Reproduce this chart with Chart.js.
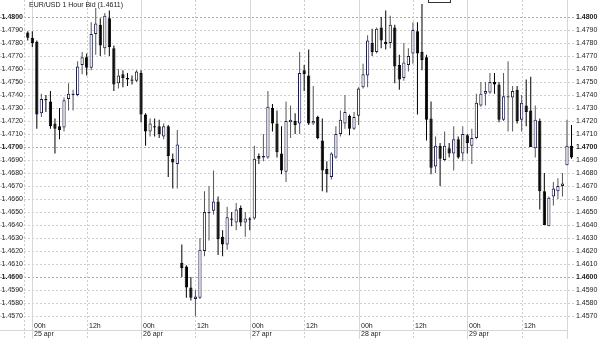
<!DOCTYPE html>
<html>
<head>
<meta charset="utf-8">
<script src="https://cdn.jsdelivr.net/npm/chart.js@4/dist/chart.umd.min.js"></script>
<style>
  html, body { margin: 0; padding: 0; background: #fff; }
  #wrap { width: 600px; height: 339px; position: relative; }
</style>
</head>
<body>
<div id="wrap"><canvas id="fx"></canvas></div>
<script>
// hourly candles, first one is 23h on 24 apr (hour -1)
const firstHour = -1;
const opens = [
  1.4788, 1.4784, 1.4781, 1.4726, 1.4737, 1.4735, 1.4718, 1.4716, 1.4715, 1.4737, 1.4740, 1.4740, 1.4763, 1.4769, 1.4761, 1.4787, 1.4794, 1.4776, 1.4799, 1.4776,
  1.4749, 1.4756, 1.4753, 1.4752, 1.4751, 1.4757, 1.4725, 1.4712, 1.4716, 1.4716, 1.4708, 1.4716, 1.4691, 1.4687, 1.4611, 1.4608, 1.4592, 1.4583, 1.4584, 1.4620,
  1.4649, 1.4651, 1.4658, 1.4631, 1.4625, 1.4645, 1.4642, 1.4653, 1.4642, 1.4645, 1.4645, 1.4693, 1.4692, 1.4692, 1.4730, 1.4718, 1.4695, 1.4681, 1.4719, 1.4720,
  1.4718, 1.4759, 1.4755, 1.4718, 1.4723, 1.4705, 1.4683, 1.4677, 1.4692, 1.4710, 1.4718, 1.4724, 1.4714, 1.4724, 1.4746, 1.4755, 1.4780, 1.4773, 1.4792, 1.4781,
  1.4780, 1.4792, 1.4763, 1.4753, 1.4763, 1.4772, 1.4789, 1.4773, 1.4769, 1.4722, 1.4685, 1.4701, 1.4690, 1.4699, 1.4695, 1.4706, 1.4695, 1.4709, 1.4701, 1.4707,
  1.4732, 1.4741, 1.4742, 1.4750, 1.4748, 1.4721, 1.4738, 1.4738, 1.4744, 1.4721, 1.4732, 1.4728, 1.4699, 1.4720, 1.4666, 1.4639, 1.4662, 1.4666, 1.4670, 1.4686,
  1.4701
];
const highs = [
  1.4789, 1.4789, 1.4782, 1.4741, 1.4740, 1.4743, 1.4722, 1.4730, 1.4738, 1.4749, 1.4744, 1.4766, 1.4773, 1.4772, 1.4796, 1.4807, 1.4799, 1.4803, 1.4805, 1.4778,
  1.4760, 1.4759, 1.4757, 1.4755, 1.4759, 1.4759, 1.4726, 1.4722, 1.4722, 1.4721, 1.4718, 1.4717, 1.4695, 1.4713, 1.4625, 1.4609, 1.4600, 1.4590, 1.4630, 1.4666,
  1.4670, 1.4682, 1.4662, 1.4636, 1.4654, 1.4650, 1.4657, 1.4655, 1.4650, 1.4646, 1.4701, 1.4695, 1.4710, 1.4743, 1.4733, 1.4728, 1.4716, 1.4735, 1.4732, 1.4726,
  1.4773, 1.4763, 1.4775, 1.4747, 1.4724, 1.4722, 1.4689, 1.4696, 1.4716, 1.4728, 1.4740, 1.4725, 1.4727, 1.4746, 1.4764, 1.4786, 1.4791, 1.4792, 1.4800, 1.4805,
  1.4801, 1.4794, 1.4771, 1.4780, 1.4776, 1.4796, 1.4796, 1.4810, 1.4771, 1.4735, 1.4708, 1.4703, 1.4712, 1.4703, 1.4716, 1.4708, 1.4716, 1.4710, 1.4714, 1.4741,
  1.4750, 1.4750, 1.4757, 1.4757, 1.4750, 1.4757, 1.4766, 1.4747, 1.4747, 1.4740, 1.4752, 1.4754, 1.4732, 1.4722, 1.4680, 1.4662, 1.4673, 1.4676, 1.4680, 1.4721,
  1.4717
];
const lows = [
  1.4782, 1.4777, 1.4714, 1.4723, 1.4727, 1.4714, 1.4695, 1.4706, 1.4712, 1.4728, 1.4728, 1.4739, 1.4756, 1.4755, 1.4759, 1.4771, 1.4770, 1.4771, 1.4770, 1.4743,
  1.4745, 1.4746, 1.4747, 1.4748, 1.4750, 1.4719, 1.4701, 1.4708, 1.4708, 1.4707, 1.4706, 1.4677, 1.4668, 1.4668, 1.4600, 1.4584, 1.4582, 1.4570, 1.4583, 1.4616,
  1.4628, 1.4648, 1.4617, 1.4616, 1.4621, 1.4639, 1.4636, 1.4639, 1.4631, 1.4636, 1.4644, 1.4687, 1.4689, 1.4691, 1.4712, 1.4692, 1.4679, 1.4673, 1.4707, 1.4710,
  1.4710, 1.4743, 1.4717, 1.4717, 1.4706, 1.4666, 1.4665, 1.4675, 1.4691, 1.4708, 1.4714, 1.4709, 1.4713, 1.4717, 1.4745, 1.4746, 1.4770, 1.4772, 1.4776, 1.4775,
  1.4776, 1.4749, 1.4744, 1.4751, 1.4758, 1.4764, 1.4725, 1.4759, 1.4705, 1.4679, 1.4680, 1.4670, 1.4689, 1.4692, 1.4682, 1.4691, 1.4689, 1.4695, 1.4687, 1.4706,
  1.4731, 1.4732, 1.4741, 1.4741, 1.4719, 1.4720, 1.4712, 1.4712, 1.4718, 1.4712, 1.4716, 1.4700, 1.4692, 1.4652, 1.4640, 1.4639, 1.4655, 1.4660, 1.4662, 1.4686,
  1.4691
];
const closes = [
  1.4784, 1.4780, 1.4725, 1.4737, 1.4736, 1.4716, 1.4714, 1.4713, 1.4736, 1.4741, 1.4741, 1.4762, 1.4769, 1.4761, 1.4787, 1.4795, 1.4778, 1.4801, 1.4777, 1.4748,
  1.4755, 1.4753, 1.4752, 1.4751, 1.4758, 1.4725, 1.4712, 1.4718, 1.4715, 1.4710, 1.4716, 1.4693, 1.4688, 1.4702, 1.4607, 1.4592, 1.4584, 1.4585, 1.4621, 1.4650,
  1.4650, 1.4658, 1.4629, 1.4625, 1.4646, 1.4644, 1.4652, 1.4642, 1.4645, 1.4644, 1.4691, 1.4691, 1.4693, 1.4731, 1.4718, 1.4696, 1.4682, 1.4720, 1.4721, 1.4717,
  1.4757, 1.4756, 1.4718, 1.4720, 1.4707, 1.4682, 1.4679, 1.4695, 1.4710, 1.4721, 1.4727, 1.4714, 1.4723, 1.4745, 1.4756, 1.4782, 1.4773, 1.4791, 1.4782, 1.4779,
  1.4794, 1.4762, 1.4752, 1.4765, 1.4770, 1.4790, 1.4772, 1.4767, 1.4721, 1.4684, 1.4701, 1.4691, 1.4701, 1.4695, 1.4706, 1.4692, 1.4710, 1.4703, 1.4707, 1.4734,
  1.4741, 1.4743, 1.4750, 1.4748, 1.4721, 1.4739, 1.4739, 1.4743, 1.4720, 1.4734, 1.4727, 1.4700, 1.4721, 1.4666, 1.4640, 1.4661, 1.4668, 1.4670, 1.4672, 1.4701,
  1.4692
];

const yTicks = [1.4570, 1.4580, 1.4590, 1.4600, 1.4610, 1.4620, 1.4630, 1.4640, 1.4650, 1.4660, 1.4670, 1.4680,
                1.4690, 1.4700, 1.4710, 1.4720, 1.4730, 1.4740, 1.4750, 1.4760, 1.4770, 1.4780, 1.4790, 1.4800];
const boldTicks = [1.4600, 1.4700, 1.4800];
const xTickHours = [0, 12, 24, 36, 48, 60, 72, 84, 96, 108];
const xTickLabels = ['00h', '12h', '00h', '12h', '00h', '12h', '00h', '12h', '00h', '12h'];
const dayLabels = ['25 apr', '', '26 apr', '', '27 apr', '', '28 apr', '', '29 apr', ''];
const titleText = 'EUR/USD 1 Hour Bid (1.4611)';

const FONT = 'Liberation Sans, Arial, sans-serif';
const UP_BORDER = '#1c1c4a';

const wicks = [], bodies = [], bodyFill = [], bodyLine = [], wickCol = [];
opens.forEach((o, i) => {
  const h = firstHour + i, c = closes[i];
  const up = c >= o;
  wicks.push({ x: h, y: [lows[i], highs[i]] });
  bodies.push({ x: h, y: [Math.min(o, c), Math.max(o, c)] });
  bodyFill.push(up ? '#ffffff' : '#000000');
  bodyLine.push(up ? UP_BORDER : '#000000');
  wickCol.push(up ? '#555555' : '#000000');
});

const isBold = v => boldTicks.some(b => Math.abs(b - v) < 1e-7);

const gridPlugin = {
  id: 'fxGrid',
  beforeDatasetsDraw(chart) {
    const { ctx, chartArea, scales } = chart;
    const xs = scales.x, ys = scales.yL;
    ctx.save();
    ctx.lineWidth = 1;
    // horizontal dotted price lines
    yTicks.forEach(v => {
      const y = Math.round(ys.getPixelForValue(v)) + 0.5;
      ctx.strokeStyle = isBold(v) ? '#a8a8a8' : '#cfcfcf';
      ctx.setLineDash([2, 2]);
      ctx.beginPath(); ctx.moveTo(0, y); ctx.lineTo(chartArea.right, y); ctx.stroke();
    });
    // vertical time lines: 00h solid, 12h dotted
    xTickHours.forEach(h => {
      const x = Math.round(xs.getPixelForValue(h)) + 0.5;
      ctx.setLineDash(h % 24 === 0 ? [] : [2, 2]);
      ctx.strokeStyle = h % 24 === 0 ? '#d6d6d6' : '#cdcdcd';
      ctx.beginPath(); ctx.moveTo(x, 0); ctx.lineTo(x, chart.height); ctx.stroke();
    });
    // left border dotted, right solid marker line
    ctx.setLineDash([2, 2]);
    ctx.strokeStyle = '#cdcdcd';
    ctx.beginPath(); ctx.moveTo(chartArea.left - 0.5, 0); ctx.lineTo(chartArea.left - 0.5, chart.height); ctx.stroke();
    ctx.setLineDash([]);
    const xr = Math.round(xs.getPixelForValue(118)) + 0.5;
    ctx.strokeStyle = '#d6d6d6';
    ctx.beginPath(); ctx.moveTo(xr, 0); ctx.lineTo(xr, chart.height); ctx.stroke();
    // separator between hour and day rows
    ctx.beginPath(); ctx.moveTo(0, 330.5); ctx.lineTo(xr, 330.5); ctx.stroke();
    ctx.restore();
  },
  afterDraw(chart) {
    const { ctx, chartArea, scales } = chart;
    const xs = scales.x;
    ctx.save();
    ctx.fillStyle = '#222';
    ctx.font = '7px ' + FONT;
    ctx.textBaseline = 'top';
    ctx.textAlign = 'left';
    xTickHours.forEach((h, i) => {
      const x = Math.round(xs.getPixelForValue(h)) + 2;
      ctx.fillText(xTickLabels[i], x, chartArea.bottom + 5);
      if (dayLabels[i]) ctx.fillText(dayLabels[i], x, chartArea.bottom + 13);
    });
    ctx.textBaseline = 'middle';
    ctx.fillText(titleText, 29, 5);
    ctx.strokeStyle = '#333';
    ctx.strokeRect(428.5, -4.5, 22, 7);
    ctx.restore();
  }
};

function yAxis(pos, w) {
  return {
    type: 'linear',
    position: pos,
    min: 1.456846,
    max: 1.481308,
    afterBuildTicks: s => { s.ticks = yTicks.map(v => ({ value: v })); },
    afterFit: s => { s.width = w; s.paddingTop = 0; s.paddingBottom = 0; },
    grid: { display: false, drawTicks: false },
    border: { display: false },
    ticks: {
      padding: 2,
      autoSkip: false,
      color: '#222',
      font: c => ({ family: FONT, size: 7, weight: (c.tick && isBold(c.tick.value)) ? 'bold' : 'normal' }),
      callback: v => v.toFixed(4)
    }
  };
}

new Chart(document.getElementById('fx'), {
  type: 'bar',
  data: {
    datasets: [
      {
        label: 'body',
        data: bodies,
        order: 0,
        grouped: false,
        yAxisID: 'yL',
        backgroundColor: bodyFill,
        borderColor: bodyLine,
        borderWidth: 1,
        borderSkipped: false,
        barPercentage: 0.9,
        maxBarThickness: 4,
        minBarLength: 1
      },
      {
        label: 'wick',
        data: wicks,
        order: 1,
        grouped: false,
        yAxisID: 'yL',
        backgroundColor: wickCol,
        borderWidth: 0,
        maxBarThickness: 1
      }
    ]
  },
  options: {
    responsive: true,
    maintainAspectRatio: false,
    animation: false,
    devicePixelRatio: 1,
    layout: { padding: { top: 0, left: 0, right: 0, bottom: 21 } },
    scales: {
      x: { type: 'linear', display: false, offset: false, min: -1.611, max: 119.55 },
      yL: yAxis('left', 25),
      yR: yAxis('right', 26)
    },
    plugins: {
      legend: { display: false },
      tooltip: { enabled: false }
    }
  },
  plugins: [gridPlugin]
});
</script>
</body>
</html>
